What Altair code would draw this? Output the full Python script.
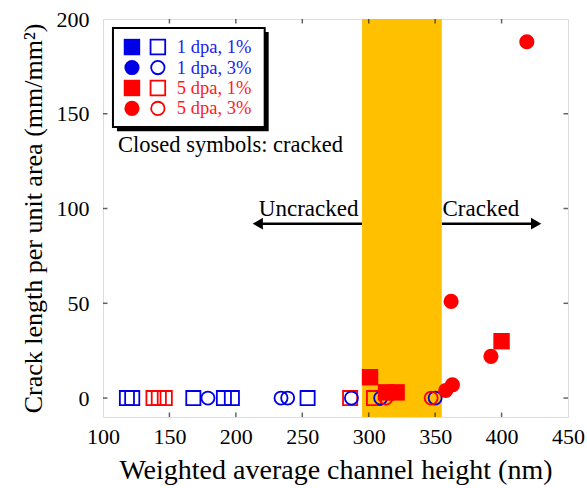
import altair as alt
import pandas as pd

# ---- measurements -------------------------------------------------------
# open symbols (uncracked) all sit at zero crack length
b1_open_x = [118, 122, 168, 191, 197, 254]          # 1 dpa, 1%  (squares)
b3_open_x = [179, 234, 239, 287, 309, 350]          # 1 dpa, 3%  (circles)
r1_open_x = [138, 142, 146.5, 286, 304]             # 5 dpa, 1%  (squares)
r3_open_x = [313, 347]                              # 5 dpa, 3%  (circles)

# closed symbols (cracked)
r1_closed_x = [301, 313, 321, 400]                  # 5 dpa, 1%
r1_closed_y = [11, 3, 3, 30]
r3_closed_x = [358, 363, 362, 392, 419]             # 5 dpa, 3%
r3_closed_y = [4, 7, 51, 22, 188]

series_names = ["1 dpa, 1%", "1 dpa, 3%", "5 dpa, 1%", "5 dpa, 3%"]
series_colors = ["#0000e6", "#0000e6", "#ff0000", "#ff0000"]
series_text_colors = ["#2020f0", "#2020f0", "#ff1a1a", "#ff1a1a"]
series_shapes = ["square", "circle", "square", "circle"]

x_ticks = [100, 150, 200, 250, 300, 350, 400, 450]
y_ticks = [0, 50, 100, 150, 200]

# transition window of channel height
band_lo, band_hi = 295, 355

# ---- annotation placement (data units) ----------------------------------
arrow_y = 92
uncracked_tip, cracked_tip = 216.5, 426
label_y = 100
uncracked_label_x, cracked_label_x = 254.8, 384.4
note_x, note_y = 111.3, 133.5
leg_x0, leg_x1, leg_y0, leg_y1 = 107.5, 221.7, 143.0, 195.3
leg_row_y = [185.2, 174.4, 163.6, 152.8]
leg_fill_x, leg_open_x, leg_text_x = 121.8, 141.3, 155.6

FONT = "Liberation Serif"

rows = []
for name, xs in zip(series_names, [b1_open_x, b3_open_x, r1_open_x, r3_open_x]):
    for v in xs:
        rows.append({"x": v, "y": 0, "series": name, "kind": "open"})
for name, xs, ys in [("5 dpa, 1%", r1_closed_x, r1_closed_y),
                     ("5 dpa, 3%", r3_closed_x, r3_closed_y)]:
    for v, w in zip(xs, ys):
        rows.append({"x": v, "y": w, "series": name, "kind": "closed"})
pts = pd.DataFrame(rows)
pts["shape"] = pts["series"].map(dict(zip(series_names, series_shapes)))

xscale = alt.Scale(domain=[100, 450], nice=False, zero=False)
yscale = alt.Scale(domain=[-10, 200], nice=False, zero=False)
color_scale = alt.Scale(domain=series_names, range=series_colors)

X = alt.X("x:Q", scale=xscale,
          axis=alt.Axis(values=x_ticks, ticks=False, domain=False, grid=False,
                        labelFlush=False, labelOverlap=False,
                        title="Weighted average channel height (nm)",
                        labelFont=FONT, labelFontSize=22, labelPadding=9,
                        labelColor="black", titleFont=FONT, titleFontSize=28,
                        titleFontWeight="normal", titleColor="black", titlePadding=9))
Y = alt.Y("y:Q", scale=yscale,
          axis=alt.Axis(values=y_ticks, ticks=False, domain=False, grid=False,
                        labelFlush=False, labelOverlap=False,
                        title="Crack length per unit area (mm/mm²)",
                        labelFont=FONT, labelFontSize=22, labelPadding=14,
                        labelColor="black", titleFont=FONT, titleFontSize=26,
                        titleFontWeight="normal", titleColor="black", titlePadding=10))

base = alt.Chart(pts)

# arrows
arrows = pd.DataFrame({
    "x": [uncracked_tip, band_hi], "x2": [band_lo, cracked_tip],
    "y": [arrow_y, arrow_y]})
arrow_lines = alt.Chart(arrows).mark_rule(color="black", strokeWidth=2.5).encode(
    x=X, x2="x2:Q", y=Y)
heads = pd.DataFrame({"x": [uncracked_tip, cracked_tip], "y": [arrow_y, arrow_y],
                      "shape": ["triangle-left", "triangle-right"]})
arrow_heads = alt.Chart(heads).mark_point(filled=True, color="black", opacity=1,
                                          size=140).encode(
    x=X, y=Y, shape=alt.Shape("shape:N", scale=None, legend=None))

# transition band
band = alt.Chart(pd.DataFrame({"x": [band_lo], "x2": [band_hi],
                               "y": [-10], "y2": [200]})).mark_rect(
    color="#ffc000").encode(x=X, x2="x2:Q", y=Y, y2="y2:Q")

open_sq = base.transform_filter("datum.kind == 'open' && datum.shape == 'square'").mark_point(
    shape="square", filled=False, size=200, strokeWidth=1.8, opacity=1).encode(
    x=X, y=Y, color=alt.Color("series:N", scale=color_scale, legend=None))
open_ci = base.transform_filter("datum.kind == 'open' && datum.shape == 'circle'").mark_point(
    shape="circle", filled=False, size=170, strokeWidth=1.8, opacity=1).encode(
    x=X, y=Y, color=alt.Color("series:N", scale=color_scale, legend=None))
closed_sq = base.transform_filter("datum.kind == 'closed' && datum.shape == 'square'").mark_point(
    shape="square", filled=True, size=270, opacity=1).encode(
    x=X, y=Y, color=alt.Color("series:N", scale=color_scale, legend=None))
closed_ci = base.transform_filter("datum.kind == 'closed' && datum.shape == 'circle'").mark_point(
    shape="circle", filled=True, size=230, opacity=1).encode(
    x=X, y=Y, color=alt.Color("series:N", scale=color_scale, legend=None))

# inward tick marks on all four sides (half of each tick is clipped away)
xt = pd.DataFrame({"x": x_ticks[1:-1]})
yt = pd.DataFrame({"y": y_ticks[:-1]})
tick_style = dict(color="#222222", thickness=1.5, size=9, clip=True)
ticks = [
    alt.Chart(xt).mark_tick(orient="vertical", **tick_style).encode(x=X, y=alt.datum(-10)),
    alt.Chart(xt).mark_tick(orient="vertical", **tick_style).encode(x=X, y=alt.datum(200)),
    alt.Chart(yt).mark_tick(orient="horizontal", **tick_style).encode(y=Y, x=alt.datum(100)),
    alt.Chart(yt).mark_tick(orient="horizontal", **tick_style).encode(y=Y, x=alt.datum(450)),
]

# annotations
ann = pd.DataFrame({"x": [uncracked_label_x, cracked_label_x], "y": [label_y, label_y],
                    "t": ["Uncracked", "Cracked"]})
ann_text = alt.Chart(ann).mark_text(font=FONT, fontSize=23, color="black",
                                    align="center", baseline="middle").encode(
    x=X, y=Y, text="t:N")
note = alt.Chart(pd.DataFrame({"x": [note_x], "y": [note_y],
                               "t": ["Closed symbols: cracked"]})).mark_text(
    font=FONT, fontSize=22.5, color="black", align="left", baseline="middle").encode(
    x=X, y=Y, text="t:N")

# hand-built legend box with drop shadow
shadow = alt.Chart(pd.DataFrame({"x": [leg_x0 + 3], "x2": [leg_x1 + 3],
                                 "y": [leg_y0 - 2.2], "y2": [leg_y1 - 2.2]})).mark_rect(
    color="black").encode(x=X, x2="x2:Q", y=Y, y2="y2:Q")
frame = alt.Chart(pd.DataFrame({"x": [leg_x0], "x2": [leg_x1],
                                "y": [leg_y0], "y2": [leg_y1]})).mark_rect(
    fill="white", stroke="black", strokeWidth=2).encode(x=X, x2="x2:Q", y=Y, y2="y2:Q")
leg = pd.DataFrame({"series": series_names, "y": leg_row_y, "shape": series_shapes,
                    "tcolor": series_text_colors,
                    "xf": [leg_fill_x] * 4, "xo": [leg_open_x] * 4, "xt": [leg_text_x] * 4})
leg_sq = alt.Chart(leg).transform_filter("datum.shape == 'square'")
leg_ci = alt.Chart(leg).transform_filter("datum.shape == 'circle'")
col = alt.Color("series:N", scale=color_scale, legend=None)
leg_layers = [
    leg_sq.mark_point(shape="square", filled=True, size=270, opacity=1).encode(
        x=alt.X("xf:Q", scale=xscale), y=Y, color=col),
    leg_ci.mark_point(shape="circle", filled=True, size=230, opacity=1).encode(
        x=alt.X("xf:Q", scale=xscale), y=Y, color=col),
    leg_sq.mark_point(shape="square", filled=False, size=215, strokeWidth=1.8, opacity=1).encode(
        x=alt.X("xo:Q", scale=xscale), y=Y, color=col),
    leg_ci.mark_point(shape="circle", filled=False, size=180, strokeWidth=1.8, opacity=1).encode(
        x=alt.X("xo:Q", scale=xscale), y=Y, color=col),
    alt.Chart(leg).mark_text(font=FONT, fontSize=18.5, align="left", baseline="middle").encode(
        x=alt.X("xt:Q", scale=xscale), y=Y, text="series:N",
        color=alt.Color("tcolor:N", scale=None)),
]

chart = alt.layer(
    arrow_lines, arrow_heads, band,
    open_sq, open_ci, closed_sq, closed_ci,
    *ticks, ann_text, note, shadow, frame, *leg_layers,
).properties(
    width=465, height=398,
    autosize=alt.AutoSizeParams(type="none"),
    padding={"left": 103, "top": 19, "right": 19, "bottom": 71},
).configure_view(stroke="#333333", strokeWidth=1.6).configure(background="white")

chart.save("out.html", embed_options={"renderer": "svg", "actions": False})
